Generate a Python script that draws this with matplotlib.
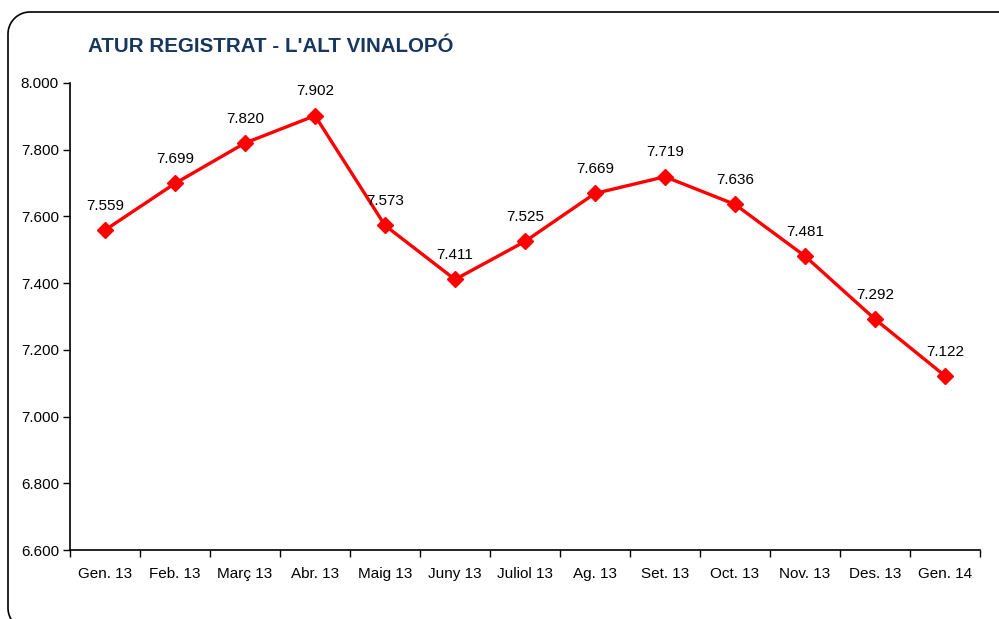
import numpy as np
import matplotlib.pyplot as plt
from matplotlib.ticker import FixedLocator, FuncFormatter

months = ['Gen. 13', 'Feb. 13', 'Març 13', 'Abr. 13', 'Maig 13', 'Juny 13',
          'Juliol 13', 'Ag. 13', 'Set. 13', 'Oct. 13', 'Nov. 13', 'Des. 13',
          'Gen. 14']
atur = [7559, 7699, 7820, 7902, 7573, 7411, 7525, 7669, 7719, 7636, 7481,
        7292, 7122]
yticks = [6600, 6800, 7000, 7200, 7400, 7600, 7800, 8000]

plt.rcParams['font.family'] = ['Liberation Sans', 'DejaVu Sans']

W, H = 999, 619
fig = plt.figure(figsize=(W / 100, H / 100), dpi=100)

# background axes in pixel units (y down) for the rounded frame
bg = fig.add_axes([0, 0, 1, 1])
bg.set_xlim(0, W)
bg.set_ylim(H, 0)
bg.axis('off')
left, top, bottom, r = 8, 12, 630, 22
t = np.linspace(0, np.pi / 2, 30)
# top-left arc, from the top edge round to the left edge
arc_tl_x = left + r - r * np.sin(t)
arc_tl_y = top + r - r * np.cos(t)
# bottom-left arc, from the left edge round to the bottom edge
arc_bl_x = left + r - r * np.cos(t)
arc_bl_y = bottom - r + r * np.sin(t)
fx = np.concatenate([[W + 20], arc_tl_x, arc_bl_x, [W + 20]])
fy = np.concatenate([[top], arc_tl_y, arc_bl_y, [bottom]])
bg.plot(fx, fy, color='black', linewidth=1.2, clip_on=False)

ax = fig.add_axes([70 / W, (H - 550) / H, (980 - 70) / W, (550 - 83) / H])
x = list(range(len(months)))
ax.plot(x, atur, color='#FF0000', linewidth=2.4, marker='D',
        markersize=8.5, markeredgecolor='#FF0000', zorder=3, clip_on=False)

for xi, v in zip(x, atur):
    label = f'{v:,}'.replace(',', '.')
    ax.annotate(label, (xi, v), xytext=(0, 17.5), textcoords='offset points',
                ha='center', va='center', fontsize=11, color='black')

ax.set_xlim(-0.5, len(months) - 0.5)
ax.set_ylim(6600, 8000)
ax.set_yticks(yticks)
ax.yaxis.set_major_formatter(FuncFormatter(lambda v, p: f'{int(v):,}'.replace(',', '.')))
ax.set_xticks(x)
ax.set_xticklabels(months)
ax.xaxis.set_minor_locator(FixedLocator([i - 0.5 for i in range(len(months) + 1)]))
ax.tick_params(axis='x', which='major', length=0, pad=12, labelsize=11)
ax.tick_params(axis='x', which='minor', length=5, width=1, direction='out')
ax.tick_params(axis='y', length=5, width=1, direction='out', labelsize=11, pad=3)
ax.patch.set_alpha(0)

for s in ['top', 'right']:
    ax.spines[s].set_visible(False)
for s in ['left', 'bottom']:
    ax.spines[s].set_linewidth(1.2)

fig.text(88 / W, 1 - 47 / H, "ATUR REGISTRAT - L'ALT VINALOPÓ",
         fontsize=14.8, fontweight='bold', color='#17375E',
         ha='left', va='center')

fig.savefig('out.png', dpi=100, facecolor='white')
